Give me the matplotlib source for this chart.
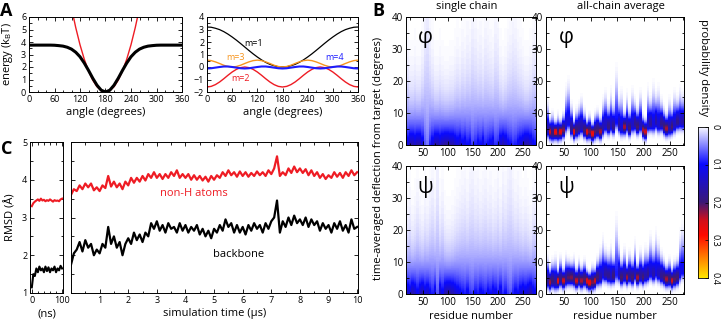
import numpy as np
import matplotlib
matplotlib.use("Agg")
import matplotlib.pyplot as plt
from matplotlib.colors import LinearSegmentedColormap
from matplotlib.ticker import MultipleLocator

plt.rcParams['font.family'] = ['Open Sans', 'DejaVu Sans']

# ---------------- Panel A data ----------------
angles = list(range(0, 361, 10))
energy_full = [3.75, 3.75, 3.75, 3.75, 3.75, 3.75, 3.74, 3.71, 3.67, 3.58, 3.43, 3.18, 2.82, 2.32,
               1.73, 1.10, 0.54, 0.14, 0.00, 0.14, 0.54, 1.10, 1.73, 2.32, 2.82, 3.18, 3.43, 3.58,
               3.67, 3.71, 3.74, 3.75, 3.75, 3.75, 3.75, 3.75, 3.75]
angles_harm = list(range(90, 271, 10))
energy_harm = [8.51, 6.72, 5.15, 3.78, 2.63, 1.68, 0.95, 0.42, 0.11, 0.0, 0.11, 0.42, 0.95, 1.68,
               2.63, 3.78, 5.15, 6.72, 8.51]
term_m1 = [3.20, 3.18, 3.10, 2.99, 2.83, 2.63, 2.40, 2.15, 1.88, 1.60, 1.32, 1.05, 0.80, 0.57, 0.37,
           0.21, 0.10, 0.02, 0.00, 0.02, 0.10, 0.21, 0.37, 0.57, 0.80, 1.05, 1.32, 1.60, 1.88, 2.15,
           2.40, 2.63, 2.83, 2.99, 3.10, 3.18, 3.20]
term_m2 = [-1.60, -1.55, -1.41, -1.20, -0.94, -0.66, -0.40, -0.19, -0.05, 0.00, -0.05, -0.19, -0.40,
           -0.66, -0.94, -1.20, -1.41, -1.55, -1.60, -1.55, -1.41, -1.20, -0.94, -0.66, -0.40, -0.19,
           -0.05, 0.00, -0.05, -0.19, -0.40, -0.66, -0.94, -1.20, -1.41, -1.55, -1.60]
term_m3 = [0.55, 0.51, 0.41, 0.28, 0.14, 0.04, 0.00, 0.04, 0.14, 0.28, 0.41, 0.51, 0.55, 0.51, 0.41,
           0.28, 0.14, 0.04, 0.00, 0.04, 0.14, 0.28, 0.41, 0.51, 0.55, 0.51, 0.41, 0.28, 0.14, 0.04,
           0.00, 0.04, 0.14, 0.28, 0.41, 0.51, 0.55]
term_m4 = [-0.12, -0.10, -0.05, 0.00, 0.04, 0.04, 0.00, -0.05, -0.10,
           -0.12, -0.10, -0.05, 0.00, 0.04, 0.04, 0.00, -0.05, -0.10,
           -0.12, -0.10, -0.05, 0.00, 0.04, 0.04, 0.00, -0.05, -0.10,
           -0.12, -0.10, -0.05, 0.00, 0.04, 0.04, 0.00, -0.05, -0.10, -0.12]

# ---------------- Panel B data (per 5-residue bin) ----------------
residue_edges = list(range(16, 277, 5))
phi_single_scale = [9, 7, 7, 8, 7, 7, 9, 16, 20, 12, 9, 7, 7, 8, 7, 6.5, 6.5, 7, 7, 8, 9, 8, 10, 9, 11, 10,
                    14, 12, 10, 11, 9, 12, 11, 10, 9, 13, 12, 8, 7, 8, 10, 11, 13, 12, 10, 9, 8, 7, 7, 8, 10, 11]
psi_single_scale = [8, 9, 7, 8, 10, 8, 7, 9, 8, 10, 12, 9, 16, 8, 10, 7, 6.5, 6.5, 7, 8, 9, 10, 11, 12, 10, 13,
                    14, 11, 12, 10, 11, 12, 10, 11, 9, 10, 12, 9, 13, 11, 14, 16, 12, 10, 11, 9, 8, 9, 8, 7, 9, 10]
phi_avg_mode = [4.5, 4, 3.5, 4, 3.5, 4, 4.5, 6, 7, 5, 4, 4.5, 5, 5.5, 4.5, 4, 4, 3.5, 4, 4.5, 4, 5, 6, 5.5, 6,
                5.5, 7, 6, 5, 5.5, 6, 5, 6, 6.5, 5.5, 6, 4.5, 4, 6, 6.5, 6, 7, 6, 6.5, 5.5, 5, 5, 5.5, 6, 7, 7, 7]
phi_avg_spread = [3.5, 1.8, 2.6, 1.5, 2.4, 1.6, 2.2, 4.5, 5, 3, 1.6, 2.6, 3, 3.5, 2.5, 1.6, 2.2, 1.5, 2.4, 2.5,
                  2, 3.5, 4, 2.8, 4.2, 3, 6.5, 3.5, 4.5, 2, 3.8, 2.5, 4.2, 3, 2.5, 4, 2, 1.8, 4.5, 3.2,
                  5, 3.5, 4.5, 3, 2.5, 2, 3.5, 2.5, 4, 3, 4, 3.5]
psi_avg_mode = [4, 3.5, 4, 3.5, 4, 4.5, 4, 4.5, 5, 5, 4.5, 4, 4.5, 4, 4.5, 4, 3.5, 3.5, 4, 5, 5, 6, 6, 5.5, 5,
                5.5, 6, 6, 5, 5.5, 5, 5.5, 5, 6, 5, 5.5, 5, 5.5, 6, 6.5, 6, 6.5, 6, 5.5, 5, 4.5, 4.5, 4, 4.5,
                5, 6, 7]
psi_avg_spread = [3, 2, 2.6, 3.2, 1.6, 2.8, 1.8, 3, 2.4, 2.2, 2.8, 1.8, 2.5, 2, 2.4, 1.6, 1.5, 2.2, 1.8, 2.5,
                  3.5, 4.5, 3.2, 3, 4, 2.6, 7, 4, 2.5, 3.4, 2, 3, 2.5, 4, 2, 3.2, 2.5, 3.5, 3, 4.5, 3.5, 5,
                  4, 3, 2.5, 2, 2.6, 1.8, 2.4, 2.5, 5, 5.5]

# ---------------- Panel C data ----------------
time_ns = list(range(0, 101, 5))
rmsd_heavy_ns = [3.30, 3.38, 3.42, 3.45, 3.48, 3.44, 3.50, 3.45, 3.47, 3.43, 3.46, 3.44, 3.48, 3.45, 3.42,
                 3.46, 3.44, 3.45, 3.43, 3.48, 3.50]
rmsd_bb_ns = [1.15, 1.50, 1.45, 1.65, 1.55, 1.70, 1.60, 1.65, 1.55, 1.70, 1.58, 1.68, 1.55, 1.65, 1.60,
              1.70, 1.55, 1.65, 1.60, 1.72, 1.65]
time_us = [i / 10 for i in range(101)]
rmsd_bb_us = [1.75, 2.05, 2.15, 2.35, 2.10, 2.40, 2.20, 2.30, 2.00, 2.15, 2.05, 2.30, 2.20, 2.75, 2.30,
              2.50, 2.20, 2.35, 2.00, 2.30, 2.45, 2.30, 2.60, 2.40, 2.55, 2.35, 2.60, 2.50, 2.85, 2.70,
              2.90, 2.65, 2.80, 2.60, 2.85, 2.70, 2.75, 2.60, 2.85, 2.65, 2.80, 2.60, 2.75, 2.65, 2.80,
              2.55, 2.70, 2.50, 2.65, 2.45, 2.70, 2.60, 2.80, 2.65, 2.95, 2.75, 2.85, 2.60, 2.80, 2.60,
              2.75, 2.55, 2.80, 2.65, 2.85, 2.70, 2.80, 2.60, 2.85, 2.70, 2.90, 3.00, 3.45, 2.60, 2.90,
              2.75, 3.00, 2.80, 3.05, 2.85, 2.95, 2.80, 3.00, 2.75, 2.95, 2.80, 2.90, 2.65, 2.85, 2.70,
              2.80, 2.60, 2.85, 2.70, 2.90, 2.65, 2.80, 2.60, 2.95, 2.70, 2.75]
rmsd_heavy_us = [3.60, 3.75, 3.70, 3.85, 3.75, 3.90, 3.80, 3.90, 3.72, 3.80, 3.70, 3.85, 3.78, 4.10, 3.82,
                 3.95, 3.80, 3.90, 3.75, 3.95, 3.85, 4.05, 3.92, 4.05, 3.95, 4.10, 3.98, 4.15, 4.05, 4.20,
                 4.05, 4.15, 4.02, 4.15, 4.05, 4.20, 4.10, 4.25, 4.05, 4.15, 4.05, 4.15, 4.00, 4.12, 4.00,
                 4.10, 3.98, 4.08, 3.95, 4.10, 4.00, 4.12, 4.05, 4.20, 4.10, 4.25, 4.12, 4.20, 4.08, 4.22,
                 4.10, 4.20, 4.08, 4.18, 4.10, 4.22, 4.12, 4.20, 4.10, 4.25, 4.15, 4.30, 4.62, 4.10, 4.20,
                 4.12, 4.30, 4.18, 4.35, 4.20, 4.30, 4.18, 4.28, 4.12, 4.25, 4.10, 4.20, 4.05, 4.15, 4.02,
                 4.12, 4.05, 4.20, 4.08, 4.18, 4.05, 4.20, 4.10, 4.25, 4.12, 4.20]

RED = '#ee1c24'
ORANGE = '#f7941d'
BLUE = '#1c1cff'

W, H = 722, 321
fig = plt.figure(figsize=(W / 100, H / 100), dpi=100)


def ax_px(x0, y0, x1, y1):
    return fig.add_axes([x0 / W, 1 - y1 / H, (x1 - x0) / W, (y1 - y0) / H])


def style(ax, size=6.5):
    ax.tick_params(which='both', direction='in', top=True, right=True, width=0.6,
                   labelsize=size, pad=2)
    ax.tick_params(which='major', length=3)
    ax.tick_params(which='minor', length=1.8)
    for s in ax.spines.values():
        s.set_linewidth(0.7)


# ---------- Panel A ----------
a1 = ax_px(29, 17, 182, 92)
a1.plot(angles, energy_full, color='black', lw=2.2, zorder=3)
a1.plot(angles_harm, energy_harm, color=RED, lw=1.0, zorder=2)
a1.set_xlim(0, 360)
a1.set_ylim(0, 6)
a1.set_xticks(range(0, 361, 60))
a1.xaxis.set_minor_locator(MultipleLocator(20))
a1.set_yticks(range(0, 7))
a1.yaxis.set_minor_locator(MultipleLocator(0.5))
style(a1)
a1.set_xlabel('angle (degrees)', fontsize=8, labelpad=2)
a1.set_ylabel('energy (k$_\\mathregular{B}$T)', fontsize=8, labelpad=4)

a2 = ax_px(207, 17, 358, 92)
a2.plot(angles, term_m1, color='black', lw=0.9)
a2.plot(angles, term_m3, color=ORANGE, lw=1.0)
a2.plot(angles, term_m2, color=RED, lw=1.0)
a2.plot(angles, term_m4, color=BLUE, lw=1.5)
a2.set_xlim(0, 360)
a2.set_ylim(-2, 4)
a2.set_xticks(range(0, 361, 60))
a2.xaxis.set_minor_locator(MultipleLocator(20))
a2.set_yticks(range(-2, 5))
a2.yaxis.set_minor_locator(MultipleLocator(0.5))
style(a2)
a2.set_xlabel('angle (degrees)', fontsize=8, labelpad=2)
a2.text(110, 1.9, 'm=1', color='black', fontsize=6.5, ha='center', va='center')
a2.text(67, 0.75, 'm=3', color=ORANGE, fontsize=6.5, ha='center', va='center')
a2.text(305, 0.75, 'm=4', color=BLUE, fontsize=6.5, ha='center', va='center')
a2.text(79, -0.9, 'm=2', color=RED, fontsize=6.5, ha='center', va='center')

# ---------- Panel C ----------
c1 = ax_px(30, 142, 63, 293)
c1.plot(time_ns, rmsd_heavy_ns, color=RED, lw=1.5)
c1.plot(time_ns, rmsd_bb_ns, color='black', lw=1.5)
c1.set_xlim(-6, 103)
c1.set_ylim(1, 5)
c1.set_xticks([0, 100])
c1.xaxis.set_minor_locator(MultipleLocator(20))
c1.set_yticks([1, 2, 3, 4, 5])
c1.yaxis.set_minor_locator(MultipleLocator(0.5))
style(c1)
c1.set_xlabel('(ns)', fontsize=8, labelpad=3)
c1.set_ylabel('RMSD (Å)', fontsize=8, labelpad=4)

c2 = ax_px(71, 142, 358, 293)
c2.plot(time_us, rmsd_heavy_us, color=RED, lw=1.6)
c2.plot(time_us, rmsd_bb_us, color='black', lw=1.6)
c2.set_xlim(0, 10.03)
c2.set_ylim(1, 5)
c2.set_xticks(range(1, 11))
c2.xaxis.set_minor_locator(MultipleLocator(0.5))
c2.set_yticks([1, 2, 3, 4, 5])
c2.yaxis.set_minor_locator(MultipleLocator(0.5))
style(c2)
c2.tick_params(labelleft=False)
c2.set_xlabel('simulation time (μs)', fontsize=8, labelpad=2)
c2.text(4.3, 3.63, 'non-H atoms', color=RED, fontsize=8, ha='center', va='center')
c2.text(5.87, 2.03, 'backbone', color='black', fontsize=8, ha='center', va='center')

# ---------- Panel B ----------
cmap = LinearSegmentedColormap.from_list(
    'pd', [(0.0, '#ffffff'), (0.25, '#0a0aff'), (0.5, '#3a1a78'), (0.62, '#d0101c'),
           (0.72, '#ff0a00'), (0.86, '#ff7a00'), (1.0, '#ffe600')])
VMAX = 0.4
ygrid = np.linspace(0, 40, 321)
edges = np.array(residue_edges, dtype=float)
LOWER_SPREAD = 1.4
SINGLE_GAIN = 1.15


def dens_single(scales):
    s = np.array(scales, dtype=float)[None, :]
    return SINGLE_GAIN * np.exp(-ygrid[:, None] / s) / s


def dens_avg(modes, spreads):
    m = np.array(modes, dtype=float)[None, :]
    sh = np.array(spreads, dtype=float)[None, :]
    y = ygrid[:, None]
    s = np.where(y < m, LOWER_SPREAD, sh)
    norm = 2.0 / (np.sqrt(2 * np.pi) * (LOWER_SPREAD + sh))
    return norm * np.exp(-(y - m) ** 2 / (2 * s ** 2))


panels = [
    ((406, 17, 536, 145), dens_single(phi_single_scale), 'φ', True, False),
    ((546, 17, 684, 145), dens_avg(phi_avg_mode, phi_avg_spread), 'φ', False, False),
    ((406, 166, 536, 294), dens_single(psi_single_scale), 'ψ', True, True),
    ((546, 166, 684, 294), dens_avg(psi_avg_mode, psi_avg_spread), 'ψ', False, True),
]
for box, dens, sym, left, bottom in panels:
    ax = ax_px(*box)
    ax.imshow(dens, origin='lower', aspect='auto', cmap=cmap, vmin=0, vmax=VMAX,
              extent=[edges[0], edges[-1], 0, 40], interpolation='nearest')
    ax.set_xlim(edges[0], edges[-1])
    ax.set_ylim(0, 40)
    ax.set_xticks([50, 100, 150, 200, 250])
    ax.xaxis.set_minor_locator(MultipleLocator(25))
    ax.set_yticks([0, 10, 20, 30, 40])
    ax.yaxis.set_minor_locator(MultipleLocator(5))
    style(ax, 7)
    ax.text(54, 33.5, sym, fontsize=15, ha='center', va='center')
    if bottom:
        ax.set_xlabel('residue number', fontsize=8, labelpad=2)

fig.text(467 / W, 1 - 6 / H, 'single chain', fontsize=8, ha='center', va='center')
fig.text(621 / W, 1 - 6 / H, 'all-chain average', fontsize=8, ha='center', va='center')
fig.text(379 / W, 1 - 158 / H, 'time-averaged deflection from target (degrees)', fontsize=8,
         rotation=90, ha='center', va='center')

# colorbar
cax = ax_px(698, 127, 708, 278)
grad = np.linspace(0, VMAX, 256)[:, None]
cax.imshow(grad, aspect='auto', cmap=cmap, vmin=0, vmax=VMAX, extent=[0, 1, VMAX, 0])
cax.set_ylim(VMAX, 0)
cax.set_xlim(0, 1)
cax.set_xticks([])
cax.set_yticks([0, 0.1, 0.2, 0.3, 0.4])
cax.yaxis.tick_right()
cax.set_yticklabels(['0', '0.1', '0.2', '0.3', '0.4'], rotation=-90, va='center')
cax.tick_params(axis='y', direction='in', length=2, width=0.5, labelsize=6.5, pad=2)
for s in cax.spines.values():
    s.set_linewidth(0.6)
fig.text(704 / W, 1 - 68 / H, 'probability density', fontsize=8, rotation=-90,
         ha='center', va='center')

# panel letters
fig.text(6 / W, 1 - 11 / H, 'A', fontsize=13, fontweight='bold', ha='center', va='center')
fig.text(378 / W, 1 - 11 / H, 'B', fontsize=13, fontweight='bold', ha='center', va='center')
fig.text(7 / W, 1 - 149 / H, 'C', fontsize=13, fontweight='bold', ha='center', va='center')

fig.savefig('out.png', dpi=100)
